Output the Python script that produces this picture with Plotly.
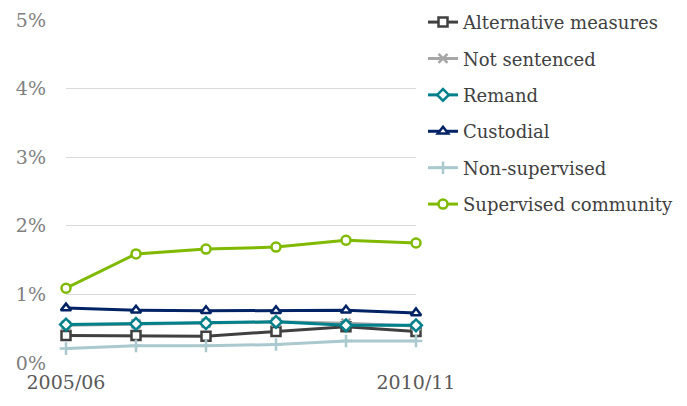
import plotly.graph_objects as go

years = ["2005/06", "2006/07", "2007/08", "2008/09", "2009/10", "2010/11"]
alternative_measures = [0.40, 0.40, 0.39, 0.46, 0.53, 0.46]
not_sentenced = [0.55, 0.57, 0.58, 0.60, 0.58, 0.54]
remand = [0.56, 0.57, 0.58, 0.60, 0.55, 0.55]
custodial = [0.80, 0.77, 0.76, 0.76, 0.77, 0.73]
non_supervised = [0.21, 0.25, 0.25, 0.27, 0.32, 0.32]
supervised_community = [1.09, 1.59, 1.66, 1.69, 1.79, 1.75]
y_ticks = [0, 1, 2, 3, 4, 5]
y_tick_labels = ["0%", "1%", "2%", "3%", "4%", "5%"]

series = [
    ("Alternative measures", alternative_measures, "#404040", "square"),
    ("Not sentenced", not_sentenced, "#A6A6A6", "x-thin"),
    ("Remand", remand, "#00808A", "diamond"),
    ("Custodial", custodial, "#002366", "triangle-up"),
    ("Non-supervised", non_supervised, "#A9C9CE", "cross-thin"),
    ("Supervised community", supervised_community, "#7FBA00", "circle"),
]

fig = go.Figure()
for i, (name, vals, color, sym) in enumerate(series):
    thin = sym.endswith("thin")
    fig.add_trace(go.Scatter(
        x=list(range(len(years))), y=vals, name=name, mode="lines+markers",
        line=dict(color=color, width=3),
        marker=dict(symbol=sym, size=9,
                    color="white" if not thin else color,
                    line=dict(color=color, width=2.5)),
        cliponaxis=False, legendgroup="g%d" % i,
    ))

font_family = "'DejaVu Serif', serif"
fig.update_layout(
    width=687, height=406,
    margin=dict(l=58, r=279, t=12, b=51, autoexpand=False),
    paper_bgcolor="white", plot_bgcolor="white",
    font=dict(family=font_family, size=18, color="#595959"),
    xaxis=dict(range=[0, 5], tickmode="array", tickvals=[0, 5],
               ticktext=[years[0], years[-1]], showgrid=False, zeroline=False,
               showline=False, ticks="", automargin=False, ticklabelstandoff=6,
               tickfont=dict(color="#595959", size=19)),
    yaxis=dict(range=[0, 5], tickmode="array", tickvals=y_ticks,
               ticktext=y_tick_labels, showgrid=True, gridcolor="#D9D9D9",
               gridwidth=1, zeroline=False, showline=False, ticks="",
               automargin=False, ticklabelstandoff=19,
               tickfont=dict(color="#808080", size=19)),
    legend=dict(x=1.02, y=1.047, xanchor="left", yanchor="top",
                traceorder="grouped", tracegroupgap=10, maxheight=400,
                font=dict(size=18, color="#404040"), itemwidth=30),
    showlegend=True,
)
fig.write_html("out.html")
